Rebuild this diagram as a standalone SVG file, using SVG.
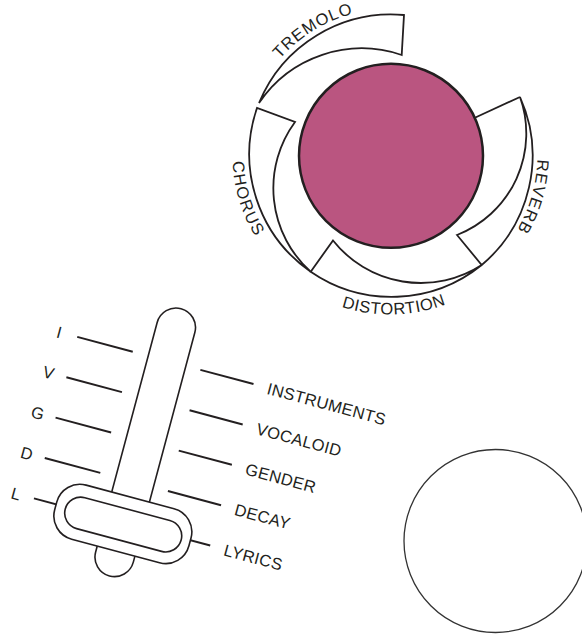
<svg xmlns="http://www.w3.org/2000/svg" width="582" height="636" viewBox="0 0 582 636">
<style>
.seg{fill:#fff;stroke:#231f20;stroke-width:1.8;stroke-linejoin:miter}
.lbl{font-family:"Liberation Sans",Arial,sans-serif;font-size:16.5px;fill:#231f20}
.tick{stroke:#231f20;stroke-width:2;stroke-linecap:butt}
.sl{fill:#fff;stroke:#231f20;stroke-width:1.6}
</style>
<defs>
<path id="pTremolo" d="M245.5,133.9 A146,146 0 0 1 435.9,16.4"/>
<path id="pChorus" d="M257.9,69.2 A157.5,157.5 0 0 0 328.5,300.0"/>
<path id="pDistortion" d="M270.5,260.7 A159.5,159.5 0 0 0 514.8,254.3"/>
<path id="pReverb" d="M512.6,73.1 A147.5,147.5 0 0 1 449.4,290.0"/>
</defs>
<g id="tremolo">
<path class="seg" d="M404,15 A143,143 0 0 0 259,103 A124,124 0 0 1 401.7,55 Z"/>
<text class="lbl" style="letter-spacing:0.9px"><textPath href="#pTremolo" startOffset="50%" text-anchor="middle">TREMOLO</textPath></text>
</g>
<g id="chorus">
<path class="seg" d="M257,108 A143,143 0 0 0 310.7,271.7 A112,112 0 0 1 295,122 Z"/>
<text class="lbl" style="letter-spacing:1.5px"><textPath href="#pChorus" startOffset="50%" text-anchor="middle">CHORUS</textPath></text>
</g>
<g id="distortion">
<path class="seg" d="M310.7,271.7 A143,143 0 0 0 481.7,265 A112,112 0 0 1 333,240.5 Z"/>
<text class="lbl" style="letter-spacing:0.55px"><textPath href="#pDistortion" startOffset="50%" text-anchor="middle">DISTORTION</textPath></text>
</g>
<g id="reverb">
<path class="seg" d="M481.7,265 A143,143 0 0 0 520,97 A109,109 0 0 1 457,235 Z"/>
<line class="seg" x1="520" y1="97" x2="470" y2="120"/>
<text class="lbl" style="letter-spacing:1.2px"><textPath href="#pReverb" startOffset="50%" text-anchor="middle">REVERB</textPath></text>
</g>
<g id="center-knob">
<circle cx="391" cy="155.8" r="92" fill="#BA5580" stroke="#231f20" stroke-width="2.5"/>
</g>
<g id="slider" transform="translate(176,327.5) rotate(15)">
<g id="connectors">
<line class="tick" x1="-93" y1="34.6" x2="-35.5" y2="34.6"/>
<line class="tick" x1="-93" y1="76.4" x2="-35.5" y2="76.4"/>
<line class="tick" x1="-93" y1="118.2" x2="-35.5" y2="118.2"/>
<line class="tick" x1="-93" y1="160" x2="-35.5" y2="160"/>
<line class="tick" x1="-93" y1="201.8" x2="-35.5" y2="201.8"/>
<line class="tick" x1="34.5" y1="34.6" x2="89.5" y2="34.6"/>
<line class="tick" x1="34.5" y1="76.4" x2="89.5" y2="76.4"/>
<line class="tick" x1="34.5" y1="118.2" x2="89.5" y2="118.2"/>
<line class="tick" x1="34.5" y1="160" x2="89.5" y2="160"/>
<line class="tick" x1="34.5" y1="201.8" x2="89.5" y2="201.8"/>
</g>
<g id="stick">
<rect class="sl" x="-19.5" y="-19.5" width="39" height="276.7" rx="19.5"/>
</g>
<g id="handle">
<rect class="sl" x="-70" y="175.5" width="139" height="56" rx="24"/>
<rect class="sl" x="-60" y="188" width="120" height="32" rx="16" fill="none"/>
</g>
<g id="left-labels" class="lbl" text-anchor="middle">
<text x="-111.5" y="40.6">I</text>
<text x="-111.5" y="82.4">V</text>
<text x="-111.5" y="124.2">G</text>
<text x="-111.5" y="166">D</text>
<text x="-111.5" y="207.8">L</text>
</g>
<g id="right-labels" class="lbl" style="letter-spacing:0.3px">
<text x="104" y="40.6">INSTRUMENTS</text>
<text x="104" y="82.4">VOCALOID</text>
<text x="104" y="124.2">GENDER</text>
<text x="104" y="166">DECAY</text>
<text x="104" y="207.8">LYRICS</text>
</g>
</g>
<g id="round-button">
<circle cx="495.5" cy="541" r="91.5" fill="#fff" stroke="#333" stroke-width="1.3"/>
</g>
</svg>
